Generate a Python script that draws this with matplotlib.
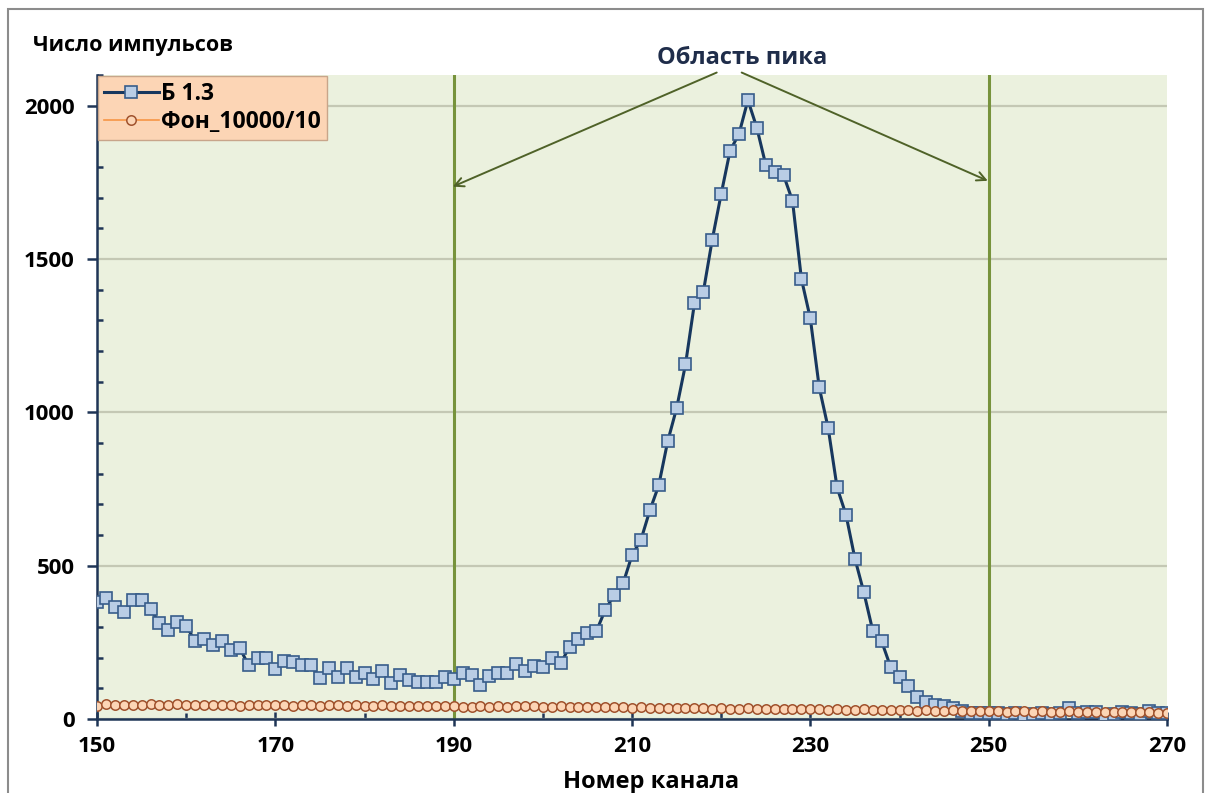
"""Спектр: Б 1.3 и фон, область пика 190-250 каналов."""
import matplotlib

matplotlib.use("Agg")
import matplotlib.pyplot as plt
from matplotlib.patches import Rectangle
from matplotlib.ticker import FixedLocator, MultipleLocator

plt.rcParams["font.family"] = ["Open Sans", "DejaVu Sans"]
plt.rcParams["font.weight"] = "bold"

channels = list(range(150, 271))

sample = [
    380, 394, 364, 349, 388, 388, 358, 313, 291, 317,
    303, 255, 262, 242, 253, 225, 232, 175, 198, 198,
    163, 190, 187, 175, 175, 133, 166, 136, 166, 136,
    151, 131, 156, 119, 144, 127, 122, 122, 122, 136,
    130, 149, 144, 112, 141, 149, 149, 180, 155, 173,
    170, 200, 181, 236, 262, 280, 286, 356, 404, 442,
    534, 584, 680, 762, 905, 1013, 1156, 1355, 1393, 1563,
    1712, 1853, 1908, 2018, 1928, 1807, 1785, 1773, 1690, 1435,
    1306, 1081, 949, 755, 666, 523, 413, 288, 253, 170,
    137, 109, 72, 56, 46, 44, 37, 26, 21, 20,
    20, 18, 15, 18, 12, 15, 18, 15, 20, 35,
    18, 22, 22, 8, 15, 22, 18, 15, 25, 18,
    20,
]

background = [
    44, 50, 47, 47, 46, 47, 48, 45, 47, 48,
    46, 47, 45, 46, 47, 45, 44, 46, 47, 47,
    45, 45, 44, 46, 45, 43, 45, 45, 43, 45,
    44, 43, 45, 44, 43, 42, 41, 43, 41, 42,
    44, 40, 39, 41, 40, 41, 40, 42, 41, 42,
    40, 39, 41, 40, 38, 40, 39, 39, 38, 38,
    37, 39, 36, 37, 35, 37, 36, 35, 36, 34,
    35, 34, 33, 35, 33, 32, 33, 34, 32, 32,
    31, 32, 30, 31, 30, 29, 31, 30, 28, 29,
    28, 30, 26, 28, 27, 26, 28, 27, 25, 26,
    26, 25, 24, 26, 25, 24, 25, 23, 24, 25,
    23, 24, 22, 24, 23, 22, 23, 22, 22, 21,
    21,
]

peak_bounds = [190, 250]
series_names = ["Б 1.3", "Фон_10000/10"]
x_major = list(range(150, 271, 20))
x_minor = list(range(160, 270, 20))

NAVY = "#1f3556"
GREEN = "#77933c"
ARROW = "#4f6228"

fig = plt.figure(figsize=(12.06, 7.93), dpi=100)
ax = fig.add_axes([97 / 1206, 1 - 719 / 793, 1070 / 1206, 644 / 793])
ax.set_facecolor("#ebf1de")

ax.plot(channels, sample, color="#17375e", lw=2.2, marker="s", ms=8,
        mfc="#b9cde5", mec="#385d8a", mew=1.2, label=series_names[0], zorder=3)
ax.plot(channels, background, color="#f79646", lw=1.2, marker="o", ms=6.8,
        mfc="#fcd5b5", mec="#a0522d", mew=1.1, label=series_names[1], zorder=4)

for b in peak_bounds:
    ax.axvline(b, color=GREEN, lw=2.2, zorder=2)

ax.set_xlim(150, 270)
ax.set_ylim(0, 2100)
ax.xaxis.set_major_locator(FixedLocator(x_major))
ax.xaxis.set_minor_locator(FixedLocator(x_minor))
ax.yaxis.set_major_locator(MultipleLocator(500))
ax.yaxis.set_minor_locator(MultipleLocator(100))
ax.grid(axis="y", which="major", color="#c4c8b4", lw=1.6, zorder=1)
ax.set_axisbelow(True)

for s in ["top", "right"]:
    ax.spines[s].set_visible(False)
for s in ["left", "bottom"]:
    ax.spines[s].set_color(NAVY)
    ax.spines[s].set_linewidth(1.8)

ax.tick_params(axis="x", which="major", direction="inout", length=10, width=1.8,
               color=NAVY, labelsize=16, pad=7)
ax.tick_params(axis="x", which="minor", direction="in", length=4.5, width=1.8, color=NAVY)
ax.tick_params(axis="y", which="major", direction="out", length=7, width=1.8,
               color=NAVY, labelsize=16, pad=9)
ax.tick_params(axis="y", which="minor", direction="in", length=4.5, width=1.8, color=NAVY)
for lab in ax.get_xticklabels() + ax.get_yticklabels():
    lab.set_fontweight("bold")

leg = ax.legend(loc="upper left", bbox_to_anchor=(0.0, 1.0), borderaxespad=0.05,
                frameon=True, fancybox=False, fontsize=16.5, handlelength=2.4,
                handletextpad=0.1, borderpad=0.25, labelspacing=0.2)
leg.get_frame().set_facecolor("#fcd5b5")
leg.get_frame().set_edgecolor("#c8a58a")
leg.get_frame().set_alpha(1)
for t in leg.get_texts():
    t.set_fontweight("bold")

# область пика: подпись и стрелки к границам
fig.text(742 / 1206, 1 - 58 / 793, "Область пика", ha="center", va="center",
         fontsize=17, fontweight="bold", color="#1f2d4a")
ax.annotate("", xy=(189.9, 1736), xytext=(219.5, 2108), annotation_clip=False,
            arrowprops=dict(arrowstyle="->", lw=1.4, color=ARROW, mutation_scale=16,
                            shrinkA=0, shrinkB=0))
ax.annotate("", xy=(249.9, 1755), xytext=(222.3, 2108), annotation_clip=False,
            arrowprops=dict(arrowstyle="->", lw=1.4, color=ARROW, mutation_scale=16,
                            shrinkA=0, shrinkB=0))

fig.text(33 / 1206, 1 - 45 / 793, "Число импульсов", ha="left", va="center",
         fontsize=15.5, fontweight="bold", color="black")
fig.text(651 / 1206, 1 - 782 / 793, "Номер канала", ha="center", va="center",
         fontsize=17, fontweight="bold", color="black")

fig.patches.append(Rectangle((8 / 1206, -0.1), 1195 / 1206, 1.1 - 9 / 793,
                             transform=fig.transFigure, fill=False,
                             edgecolor="#8c8c8c", lw=1.5))

fig.savefig("out.png", dpi=100)
